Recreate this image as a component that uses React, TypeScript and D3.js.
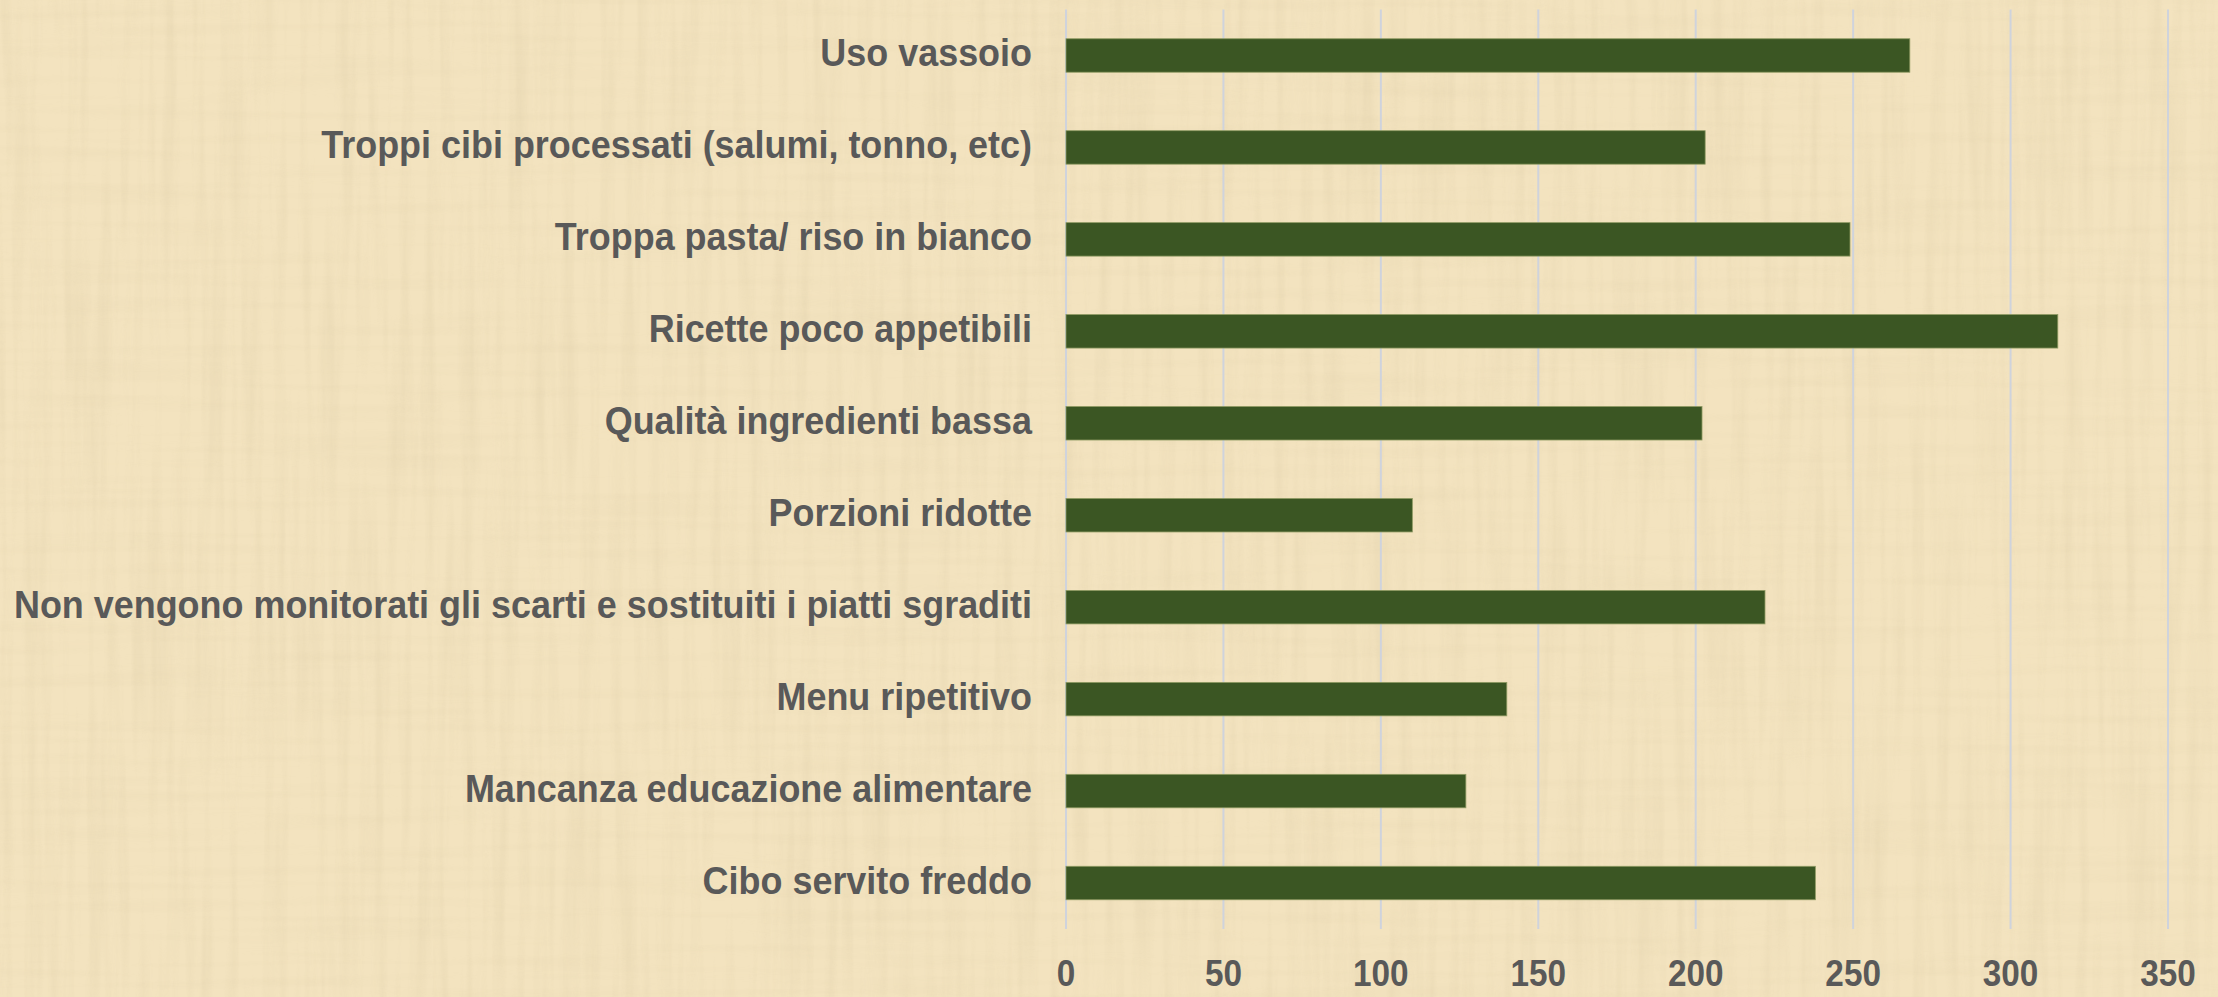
import * as d3 from "d3";
import { useEffect, useRef } from "react";

const categories = [
  "Uso vassoio",
  "Troppi cibi processati (salumi, tonno, etc)",
  "Troppa pasta/ riso in bianco",
  "Ricette poco appetibili",
  "Qualità ingredienti bassa",
  "Porzioni ridotte",
  "Non vengono monitorati gli scarti e sostituiti i piatti sgraditi",
  "Menu ripetitivo",
  "Mancanza educazione alimentare",
  "Cibo servito freddo",
];
const values = [268, 203, 249, 315, 202, 110, 222, 140, 127, 238];
const ticks = [0, 50, 100, 150, 200, 250, 300, 350];

const App = () => {
  const ref = useRef<SVGSVGElement | null>(null);

  useEffect(() => {
    const width = 2218;
    const height = 997;
    const margin = { top: 9.5, right: 50, bottom: 68, left: 1066 };

    const svg = d3.select(ref.current);
    svg.selectAll("*").remove();

    // papyrus-like background (vertical + a few horizontal fibres)
    const defs = svg.append("defs");
    const f1 = defs.append("filter").attr("id", "fibV").attr("x", 0).attr("y", 0)
      .attr("width", "100%").attr("height", "100%");
    f1.append("feTurbulence").attr("type", "fractalNoise")
      .attr("baseFrequency", "0.08 0.004").attr("numOctaves", 3).attr("seed", 7);
    f1.append("feColorMatrix").attr("type", "matrix")
      .attr("values", "0 0 0 0 0.6  0 0 0 0 0.5  0 0 0 0 0.3  0 0 0 1.2 -0.5");
    const f2 = defs.append("filter").attr("id", "fibH").attr("x", 0).attr("y", 0)
      .attr("width", "100%").attr("height", "100%");
    f2.append("feTurbulence").attr("type", "fractalNoise")
      .attr("baseFrequency", "0.004 0.09").attr("numOctaves", 2).attr("seed", 3);
    f2.append("feColorMatrix").attr("type", "matrix")
      .attr("values", "0 0 0 0 0.6  0 0 0 0 0.5  0 0 0 0 0.3  0 0 0 1.2 -0.55");

    svg.append("rect").attr("width", width).attr("height", height).attr("fill", "#F3E3BF");
    svg.append("rect").attr("width", width).attr("height", height)
      .attr("filter", "url(#fibV)").attr("opacity", 0.28);
    svg.append("rect").attr("width", width).attr("height", height)
      .attr("filter", "url(#fibH)").attr("opacity", 0.15);

    const x = d3.scaleLinear()
      .domain([0, 350])
      .range([margin.left, width - margin.right]);

    const y = d3.scaleBand()
      .domain(categories)
      .range([margin.top, height - margin.bottom])
      .paddingInner(0.636)
      .paddingOuter(0.318);

    // grid
    svg.append("g")
      .selectAll("line")
      .data(ticks)
      .join("line")
      .attr("x1", d => x(d))
      .attr("x2", d => x(d))
      .attr("y1", margin.top)
      .attr("y2", height - margin.bottom)
      .attr("stroke", "#CFD3DC")
      .attr("stroke-width", 2);

    // bars
    svg.append("g")
      .selectAll("rect")
      .data(values)
      .join("rect")
      .attr("x", x(0))
      .attr("y", (d, i) => y(categories[i])!)
      .attr("width", d => x(d) - x(0))
      .attr("height", y.bandwidth())
      .attr("fill", "#3B5623")
      .attr("stroke", "#8E9A62")
      .attr("stroke-width", 0.8);

    // category labels
    svg.append("g")
      .selectAll("g")
      .data(categories)
      .join("g")
      .attr("transform", d => `translate(${x(0) - 34},${y(d)! + y.bandwidth() / 2 + 10.5}) scale(0.946,1)`)
      .append("text")
      .attr("text-anchor", "end")
      .attr("font-family", "Liberation Sans, Arial, sans-serif")
      .attr("font-weight", "bold")
      .attr("font-size", 38)
      .attr("fill", "#595959")
      .text(d => d);

    // x tick labels
    svg.append("g")
      .selectAll("g")
      .data(ticks)
      .join("g")
      .attr("transform", d => `translate(${x(d)},986) scale(0.9,1)`)
      .append("text")
      .attr("text-anchor", "middle")
      .attr("font-family", "Liberation Sans, Arial, sans-serif")
      .attr("font-weight", "bold")
      .attr("font-size", 37)
      .attr("fill", "#595959")
      .text(d => d);
  }, []);

  return (
    <svg
      ref={ref}
      width={2218}
      height={997}
      style={{ position: "absolute", left: 0, top: 0, display: "block" }}
    />
  );
};

export default App;
